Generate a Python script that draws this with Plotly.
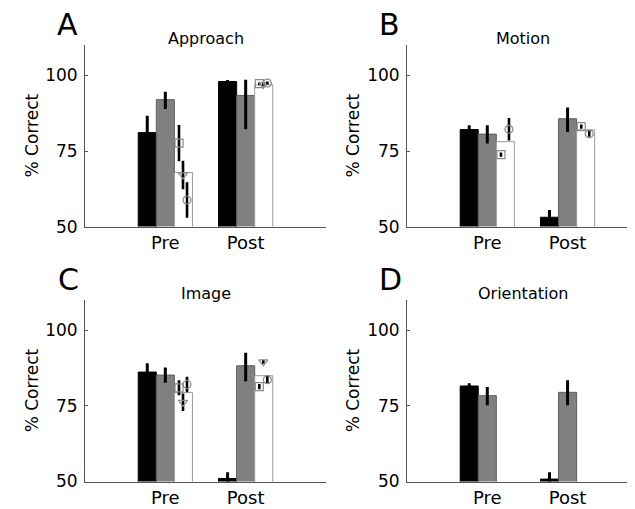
import plotly.graph_objects as go

# ---------------- data ----------------
panel_names = ["Approach", "Motion", "Image", "Orientation"]
panel_letters = ["A", "B", "C", "D"]
conditions = ["Pre", "Post"]
cond_x = [1, 2]
y_ticks = [50, 75, 100]

# group mean (black), per panel: [Pre, Post]
black_mean = [[81.1, 98.0], [82.1, 53.1], [86.2, 51.0], [81.6, 50.8]]
black_err = [[5.6, 0.5], [1.4, 2.4], [2.9, 2.1], [0.9, 2.3]]

# gray series
gray_mean = [[92.0, 93.4], [80.6, 85.7], [85.2, 88.3], [78.4, 79.5]]
gray_err_plus = [[2.6, 5.2], [2.9, 3.7], [2.5, 4.3], [2.9, 4.0]]
gray_err_minus = [[3.1, 11.2], [3.1, 4.4], [2.5, 5.1], [3.2, 4.3]]

# white series (none for Orientation)
white_mean = [[67.9, 96.9], [78.1, 82.0], [79.4, 85.0], [None, None]]

# individual subjects on the white bars
square_mean = [[77.6, 97.3], [73.8, 83.1], [81.0, 81.4], [None, None]]
square_err = [[6.0, 0.5], [0.7, 0.7], [2.5, 0.9], [None, None]]
tri_mean = [[67.1, 97.0], [None, None], [76.2, 89.6], [None, None]]
tri_err = [[4.7, 0.5], [None, None], [2.9, 0.6], [None, None]]
circ_mean = [[58.8, 97.5], [82.2, 80.7], [82.1, 83.7], [None, None]]
circ_err = [[5.9, 0.5], [3.7, 1.0], [2.6, 1.3], [None, None]]

# ---------------- layout helpers ----------------
W, H = 635, 509
FONT = "DejaVu Sans, Liberation Sans, Arial, sans-serif"
AX_COLOR = "#555555"

# pixel boxes of the four axes: (x0, x1, ytop, ybottom), x-range max
boxes = [
    (77, 318, 38, 223, 3.0),
    (399, 630, 38, 223, 2.877),
    (77, 318, 298, 483, 3.0),
    (399, 630, 298, 483, 2.877),
]
ytitle_x = [23.5, 344.5, 23.5, 344.5]
letter_x = [59.5, 381.7, 60.0, 383.0]

BW = 0.225
offs = [-1.5 * BW, -0.5 * BW, 0.5 * BW]
subj_dx = [-0.055, -0.005, 0.045]

fig = go.Figure()
annotations = []

for p in range(4):
    x0, x1, yt, yb, xmax = boxes[p]
    xa = "x" if p == 0 else f"x{p+1}"
    ya = "y" if p == 0 else f"y{p+1}"

    def eb(plus, minus=None, thick=3):
        d = dict(type="data", array=plus, color="black", thickness=thick, width=0, visible=True)
        if minus is not None:
            d["arrayminus"] = minus
            d["symmetric"] = False
        return d

    fig.add_trace(go.Bar(
        x=cond_x, y=black_mean[p], width=BW, offset=offs[0],
        marker=dict(color="black", line=dict(color="black", width=1)),
        error_y=eb(black_err[p]), xaxis=xa, yaxis=ya, showlegend=False))
    fig.add_trace(go.Bar(
        x=cond_x, y=gray_mean[p], width=BW, offset=offs[1],
        marker=dict(color="#808080", line=dict(color="#5e5e5e", width=1)),
        error_y=eb(gray_err_plus[p], gray_err_minus[p]), xaxis=xa, yaxis=ya, showlegend=False))
    if any(v is not None for v in white_mean[p]):
        fig.add_trace(go.Bar(
            x=cond_x, y=white_mean[p], width=BW, offset=offs[2],
            marker=dict(color="white", line=dict(color="#9a9a9a", width=1)),
            xaxis=xa, yaxis=ya, showlegend=False))
        for vals, errs, sym, dx in [
            (square_mean[p], square_err[p], "square-open", subj_dx[0]),
            (tri_mean[p], tri_err[p], "triangle-down-open", subj_dx[1]),
            (circ_mean[p], circ_err[p], "circle-open", subj_dx[2]),
        ]:
            xs = [c + offs[2] + BW / 2 + dx for c in cond_x]
            fig.add_trace(go.Scatter(
                x=xs, y=vals, mode="markers",
                marker=dict(symbol=sym, size=8, color="#8a8a8a", line=dict(color="#8a8a8a", width=1.2)),
                error_y=dict(type="data", array=[e if e is not None else 0 for e in errs],
                             color="black", thickness=2.6, width=0),
                xaxis=xa, yaxis=ya, showlegend=False, cliponaxis=False))

    xdom = [x0 / W, x1 / W]
    ydom = [1 - yb / H, 1 - yt / H]
    key = "" if p == 0 else str(p + 1)
    fig.layout["xaxis" + key] = dict(
        domain=xdom, range=[0, xmax], anchor=ya, showline=True, linecolor=AX_COLOR, linewidth=1,
        tickmode="array", tickvals=cond_x, ticktext=conditions, ticks="", showgrid=False,
        zeroline=False, tickfont=dict(family=FONT, size=18, color="black"), fixedrange=True)
    fig.layout["yaxis" + key] = dict(
        domain=ydom, range=[50, 110], anchor=xa, showline=True, linecolor=AX_COLOR, linewidth=1,
        tickmode="array", tickvals=y_ticks, ticks="inside", ticklen=3, tickcolor=AX_COLOR,
        showgrid=False, zeroline=False, ticklabelstandoff=3,
        tickfont=dict(family=FONT, size=17, color="black"), fixedrange=True)

    # subplot title
    annotations.append(dict(
        x=(x0 + x1) / 2 / W, y=1 - (yt + 5) / H, xref="paper", yref="paper",
        text=panel_names[p], showarrow=False, xanchor="center", yanchor="bottom",
        font=dict(family=FONT, size=16, color="black")))
    # panel letter
    annotations.append(dict(
        x=letter_x[p] / W, y=1 - (yt - 1) / H, xref="paper", yref="paper",
        text=panel_letters[p], showarrow=False, xanchor="center", yanchor="bottom",
        font=dict(family=FONT, size=30, color="black")))
    # y-axis title
    annotations.append(dict(
        x=ytitle_x[p] / W, y=1 - (yt + yb) / 2 / H, xref="paper", yref="paper",
        text="% Correct", textangle=-90, showarrow=False, xanchor="center", yanchor="middle",
        font=dict(family=FONT, size=17, color="black")))

fig.update_layout(
    width=W, height=H, margin=dict(l=0, r=0, t=0, b=0),
    paper_bgcolor="white", plot_bgcolor="white",
    barmode="overlay", annotations=annotations, showlegend=False,
)

fig.write_html("out.html", config={"displayModeBar": False})
